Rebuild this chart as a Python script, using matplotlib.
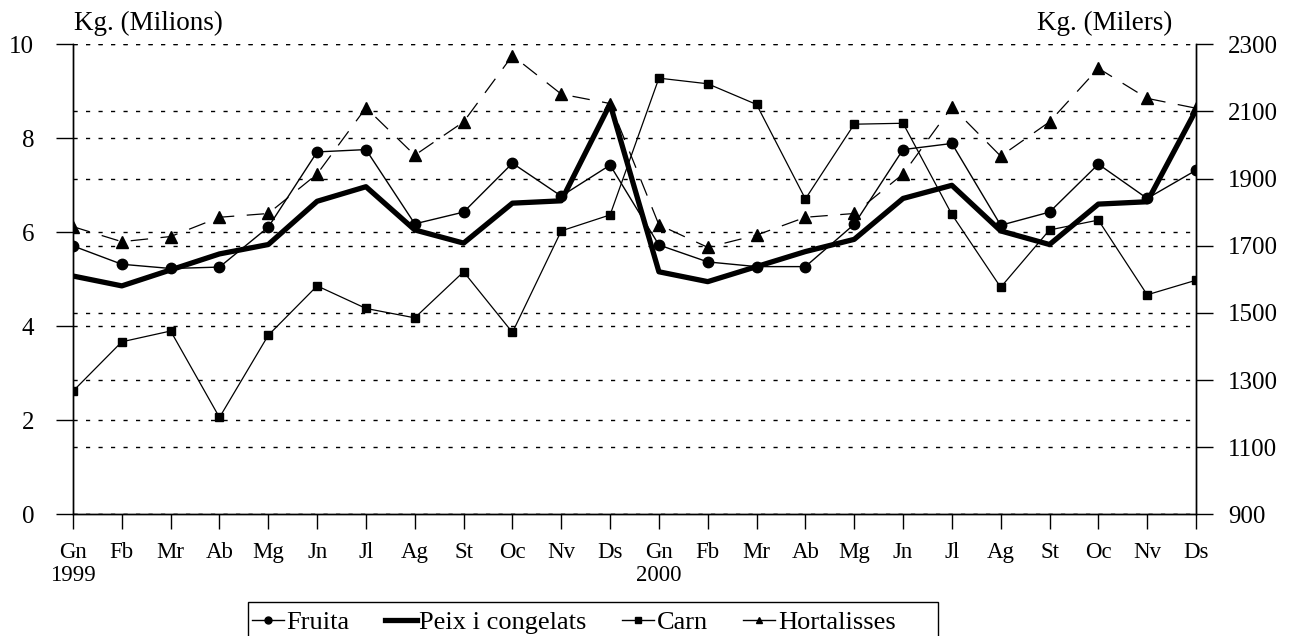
import numpy as np
import matplotlib
matplotlib.use("Agg")
import matplotlib.pyplot as plt
from matplotlib.lines import Line2D
from matplotlib.patches import Rectangle

plt.rcParams['font.family'] = ['Liberation Serif', 'DejaVu Serif']

months = ["Gn\n1999", "Fb", "Mr", "Ab", "Mg", "Jn", "Jl", "Ag", "St", "Oc", "Nv", "Ds",
          "Gn\n2000", "Fb", "Mr", "Ab", "Mg", "Jn", "Jl", "Ag", "St", "Oc", "Nv", "Ds"]

fruita = [5.71, 5.32, 5.23, 5.26, 6.11, 7.71, 7.76, 6.18, 6.43, 7.47, 6.77, 7.43,
          5.73, 5.37, 5.27, 5.27, 6.17, 7.76, 7.89, 6.15, 6.43, 7.45, 6.72, 7.32]
peix = [5.07, 4.86, 5.20, 5.54, 5.74, 6.66, 6.97, 6.05, 5.77, 6.62, 6.67, 8.73,
        5.16, 4.95, 5.27, 5.59, 5.85, 6.72, 7.00, 6.03, 5.74, 6.60, 6.65, 8.60]
carn = [2.62, 3.67, 3.90, 2.06, 3.81, 4.86, 4.38, 4.18, 5.16, 3.87, 6.03, 6.37,
        9.28, 9.16, 8.72, 6.71, 8.30, 8.32, 6.38, 4.83, 6.05, 6.26, 4.67, 4.98]
hortalisses = [6.12, 5.80, 5.91, 6.32, 6.40, 7.24, 8.65, 7.64, 8.35, 9.76, 8.94, 8.74,
               6.16, 5.68, 5.94, 6.32, 6.40, 7.24, 8.67, 7.62, 8.35, 9.49, 8.85, 8.64]

left_ticks = [0, 2, 4, 6, 8, 10]
right_ticks = [900, 1100, 1300, 1500, 1700, 1900, 2100, 2300]

W, H = 1292, 636
fig = plt.figure(figsize=(W / 100, H / 100), dpi=100)
ax = fig.add_axes([73 / W, 1 - 514.3 / H, (1196 - 73) / W, (514.3 - 44.3) / H])
ax2 = ax.twinx()
ax.set_zorder(ax2.get_zorder() + 1)
ax.patch.set_visible(False)

x = np.arange(len(months))
grid_kw = dict(color='black', linestyle=(0, (3, 6)), linewidth=1.0)

ax.plot(x, fruita, color='black', lw=1.0, marker='o', ms=7.5, label='Fruita', zorder=3)
ax.plot(x, peix, color='black', lw=3.8, label='Peix i congelats', zorder=4)
ax.plot(x, carn, color='black', lw=0.9, marker='s', ms=5.5, label='Carn', zorder=3)
ax.plot(x, hortalisses, color='black', lw=0.9, linestyle=(0, (14, 10)), marker='^',
        ms=8, label='Hortalisses', zorder=3)

ax.set_xlim(0, len(months) - 1)
ax.set_ylim(0, 10)
ax2.set_ylim(900, 2300)
ax.set_yticks(left_ticks)
ax2.set_yticks(right_ticks)
ax.set_xticks(x)
ax.set_xticklabels(months, fontsize=16.5, linespacing=1.1)

ax.yaxis.grid(True, **grid_kw)
ax2.yaxis.grid(True, **grid_kw)
ax.set_axisbelow(True)

for a in (ax, ax2):
    a.spines['top'].set_visible(False)
    for s in a.spines.values():
        s.set_linewidth(1.0)
ax.tick_params(axis='y', direction='out', length=12, width=1, pad=16, labelsize=18)
ax2.tick_params(axis='y', direction='out', length=12, width=1, pad=11, labelsize=18)
ax.tick_params(axis='x', direction='out', length=11, width=1, pad=9)

fig.text(74 / W, 1 - 11 / H, "Kg. (Milions)", fontsize=19.5, ha='left', va='top')
fig.text(1172 / W, 1 - 11 / H, "Kg. (Milers)", fontsize=19.5, ha='right', va='top')

# legend box: only left, top and right edges fall inside the picture
fig.patches.append(Rectangle((248 / W, -0.05), (938 - 248) / W, 0.05 + 1 - 602 / H,
                             transform=fig.transFigure, fill=False, edgecolor='black',
                             linewidth=1.0))

handles = [
    Line2D([], [], color='black', lw=1.0, marker='o', ms=5),
    Line2D([], [], color='black', lw=3.8),
    Line2D([], [], color='black', lw=1.0, marker='s', ms=4),
    Line2D([], [], color='black', lw=1.0, marker='^', ms=5),
]
fig.legend(handles, ['Fruita', 'Peix i congelats', 'Carn', 'Hortalisses'],
           loc='center left', bbox_to_anchor=(252 / W, 1 - 622 / H),
           ncol=4, fontsize=19, frameon=False,
           handlelength=1.2, handletextpad=0.1, borderpad=0.0, borderaxespad=0,
           columnspacing=1.35)

fig.savefig("out.png", dpi=100)
